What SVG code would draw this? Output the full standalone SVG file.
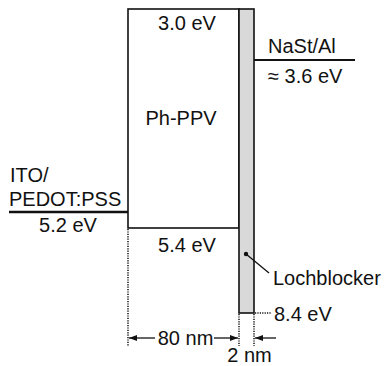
<svg xmlns="http://www.w3.org/2000/svg" width="384" height="366" viewBox="0 0 384 366">
<defs>
<style>
text{font-family:"Liberation Sans",Arial,sans-serif;font-size:20px;fill:#111}
.ln{stroke:#111;fill:none}
.dot{stroke:#111;stroke-width:1.5;stroke-dasharray:1.2 1.2;fill:none}
</style>
<marker id="ah" viewBox="0 0 8 6" refX="8" refY="3" markerWidth="8" markerHeight="6" markerUnits="userSpaceOnUse" orient="auto">
<path d="M0,0 L8,3 L0,6 Z" fill="#111"/>
</marker>
</defs>
<rect width="384" height="366" fill="#fff"/>
<g id="phppv">
<rect x="128" y="9" width="111" height="219" class="ln" stroke-width="1.6"/>
<text x="187" y="30" text-anchor="middle">3.0 eV</text>
<text x="181" y="125" text-anchor="middle">Ph-PPV</text>
<text x="187" y="251.5" text-anchor="middle">5.4 eV</text>
</g>
<g id="lochblocker">
<rect x="239" y="9" width="15" height="304" class="ln" stroke-width="1.6" style="fill:#d9d9d9"/>
</g>
<g id="nast">
<line x1="254" y1="60" x2="355" y2="60" class="ln" stroke-width="2"/>
<text x="268" y="53">NaSt/Al</text>
<text x="268" y="83">≈ 3.6 eV</text>
</g>
<g id="ito">
<line x1="9" y1="212" x2="128" y2="212" class="ln" stroke-width="2.6"/>
<text x="10" y="182">ITO/</text>
<text x="9" y="206">PEDOT:PSS</text>
<text x="68" y="232" text-anchor="middle">5.2 eV</text>
</g>
<g id="labels">
<text x="273" y="285">Lochblocker</text>
<text x="274" y="321">8.4 eV</text>
<text x="185.5" y="345" text-anchor="middle">80 nm</text>
<text x="249.5" y="362" text-anchor="middle">2 nm</text>
</g>
<g id="connectors">
<line x1="128" y1="229" x2="128" y2="346" class="dot"/>
<line x1="239" y1="314" x2="239" y2="346" class="dot"/>
<line x1="254" y1="314" x2="254" y2="346" class="dot"/>
<line x1="255" y1="313" x2="271" y2="313" class="dot"/>
<circle cx="246" cy="254" r="2.2" fill="#111"/>
<line x1="246" y1="254" x2="269" y2="273" class="ln" stroke-width="1.3"/>
<line x1="155" y1="338" x2="129" y2="338" class="ln" stroke-width="1.3" marker-end="url(#ah)"/>
<line x1="214" y1="338" x2="238" y2="338" class="ln" stroke-width="1.3" marker-end="url(#ah)"/>
<line x1="276" y1="338" x2="255" y2="338" class="ln" stroke-width="1.3" marker-end="url(#ah)"/>
</g>
</svg>
